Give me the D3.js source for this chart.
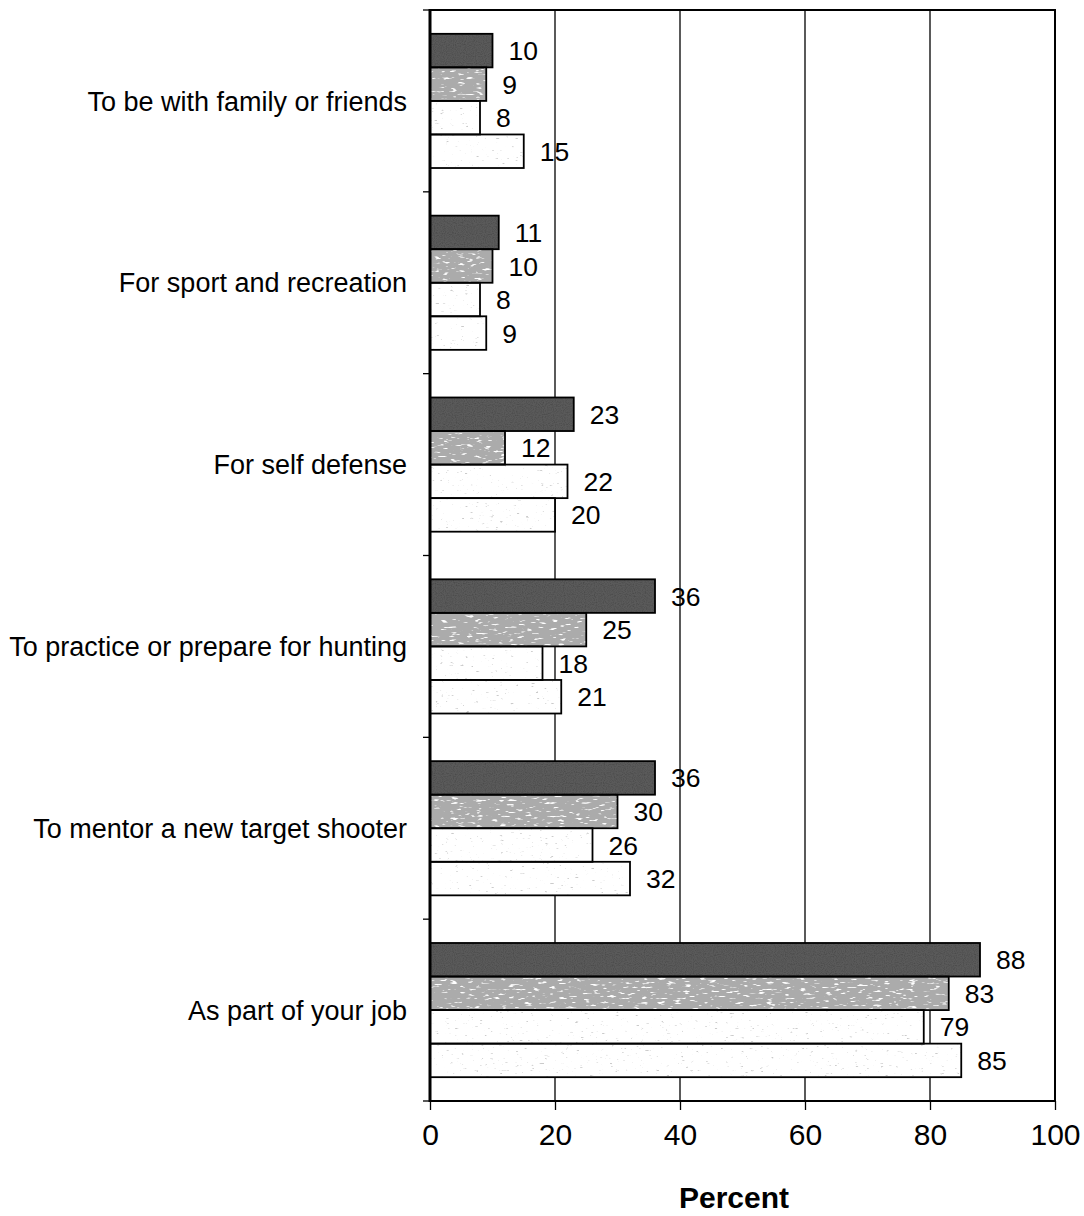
<!DOCTYPE html>
<html>
<head>
<meta charset="utf-8">
<script src="https://cdn.jsdelivr.net/npm/d3@7"></script>
<style>
  html, body { margin: 0; padding: 0; background: #fff; }
  svg { display: block; }
  text { font-family: "Liberation Sans", Arial, sans-serif; fill: #000; }
</style>
</head>
<body>
<svg id="chart" width="1084" height="1216"></svg>
<script>
// ---- data ----
const categories = [
  "To be with family or friends",
  "For sport and recreation",
  "For self defense",
  "To practice or prepare for hunting",
  "To mentor a new target shooter",
  "As part of your job"
];
const seriesNames = ["Series 1", "Series 2", "Series 3", "Series 4"];
const series1 = [10, 11, 23, 36, 36, 88];
const series2 = [9, 10, 12, 25, 30, 83];
const series3 = [8, 8, 22, 18, 26, 79];
const series4 = [15, 9, 20, 21, 32, 85];
const xTicks = [0, 20, 40, 60, 80, 100];
const xTitle = "Percent";

const seriesValues = [series1, series2, series3, series4];

// ---- layout ----
const svg = d3.select("#chart");
const mLeft = 430, mRight = 1055, mTop = 10, mBottom = 1101;

const x = d3.scaleLinear().domain([0, 100]).range([mLeft, mRight]);
const y = d3.scaleBand().domain(categories).range([mTop, mBottom]).paddingInner(0).paddingOuter(0);
const ySub = d3.scaleBand().domain(seriesNames).range([0, y.bandwidth()]).paddingInner(0).paddingOuter(0.71);

const fills = ["#5a5a5a", "#ababab", "#ffffff", "#ffffff"];
const filters = ["url(#noiseDark)", "url(#speckle)", "url(#faint)", "url(#faint)"];

// ---- texture filters ----
const defs = svg.append("defs");
const fDark = defs.append("filter").attr("id", "noiseDark").attr("x", 0).attr("y", 0).attr("width", 1).attr("height", 1);
fDark.append("feTurbulence").attr("type", "fractalNoise").attr("baseFrequency", "0.9").attr("numOctaves", 1).attr("seed", 2).attr("result", "n");
fDark.append("feColorMatrix").attr("in", "n").attr("type", "matrix")
  .attr("values", "0 0 0 0 0  0 0 0 0 0  0 0 0 0 0  0 0 0 0.8 -0.35").attr("result", "dots");
fDark.append("feComposite").attr("in", "dots").attr("in2", "SourceGraphic").attr("operator", "in").attr("result", "cd");
const m1 = fDark.append("feMerge");
m1.append("feMergeNode").attr("in", "SourceGraphic");
m1.append("feMergeNode").attr("in", "cd");

const fSp = defs.append("filter").attr("id", "speckle").attr("x", 0).attr("y", 0).attr("width", 1).attr("height", 1);
fSp.append("feTurbulence").attr("type", "fractalNoise").attr("baseFrequency", "0.12 0.45").attr("numOctaves", 2).attr("seed", 5).attr("result", "n");
fSp.append("feColorMatrix").attr("in", "n").attr("type", "matrix")
  .attr("values", "0 0 0 0 1  0 0 0 0 1  0 0 0 0 1  0 0 0 7 -4.3").attr("result", "spots");
fSp.append("feComposite").attr("in", "spots").attr("in2", "SourceGraphic").attr("operator", "in").attr("result", "cs");
const m2 = fSp.append("feMerge");
m2.append("feMergeNode").attr("in", "SourceGraphic");
m2.append("feMergeNode").attr("in", "cs");

const fFa = defs.append("filter").attr("id", "faint").attr("x", 0).attr("y", 0).attr("width", 1).attr("height", 1);
fFa.append("feTurbulence").attr("type", "fractalNoise").attr("baseFrequency", "0.2 0.6").attr("numOctaves", 2).attr("seed", 9).attr("result", "n");
fFa.append("feColorMatrix").attr("in", "n").attr("type", "matrix")
  .attr("values", "0 0 0 0 0.6  0 0 0 0 0.6  0 0 0 0 0.6  0 0 0 8 -5.6").attr("result", "spots");
fFa.append("feComposite").attr("in", "spots").attr("in2", "SourceGraphic").attr("operator", "in").attr("result", "cf");
const m3 = fFa.append("feMerge");
m3.append("feMergeNode").attr("in", "SourceGraphic");
m3.append("feMergeNode").attr("in", "cf");

// ---- gridlines ----
svg.append("g").selectAll("line")
  .data(xTicks.filter(t => t > 0 && t < 100))
  .join("line")
  .attr("x1", d => x(d)).attr("x2", d => x(d))
  .attr("y1", mTop).attr("y2", mBottom)
  .attr("stroke", "#000").attr("stroke-width", 1.3);

// ---- bars ----
const rows = [];
categories.forEach((c, i) => {
  seriesNames.forEach((s, j) => {
    rows.push({ cat: c, s: s, j: j, v: seriesValues[j][i] });
  });
});

const gBars = svg.append("g");
gBars.selectAll("rect.fill")
  .data(rows)
  .join("rect")
  .attr("class", "fill")
  .attr("x", x(0))
  .attr("y", d => y(d.cat) + ySub(d.s))
  .attr("width", d => x(d.v) - x(0))
  .attr("height", ySub.bandwidth())
  .attr("fill", d => fills[d.j])
  .attr("filter", d => filters[d.j]);

gBars.selectAll("rect.outline")
  .data(rows)
  .join("rect")
  .attr("class", "outline")
  .attr("x", x(0))
  .attr("y", d => y(d.cat) + ySub(d.s))
  .attr("width", d => x(d.v) - x(0))
  .attr("height", ySub.bandwidth())
  .attr("fill", "none")
  .attr("stroke", "#000")
  .attr("stroke-width", 1.8);

// ---- value labels ----
svg.append("g").selectAll("text")
  .data(rows)
  .join("text")
  .attr("x", d => x(d.v) + 16)
  .attr("y", d => y(d.cat) + ySub(d.s) + ySub.bandwidth() / 2)
  .attr("dy", "0.36em")
  .attr("font-size", 26.5)
  .text(d => d.v);

// ---- frame ----
svg.append("rect")
  .attr("x", mLeft).attr("y", mTop)
  .attr("width", mRight - mLeft).attr("height", mBottom - mTop)
  .attr("fill", "none").attr("stroke", "#000").attr("stroke-width", 2);
svg.append("line")
  .attr("x1", mLeft).attr("x2", mLeft).attr("y1", mTop - 1).attr("y2", mBottom + 1)
  .attr("stroke", "#000").attr("stroke-width", 3);

// ---- left ticks at band boundaries ----
const bounds = categories.map(c => y(c)).concat([mBottom]);
svg.append("g").selectAll("line")
  .data(bounds)
  .join("line")
  .attr("x1", mLeft - 7).attr("x2", mLeft)
  .attr("y1", d => d).attr("y2", d => d)
  .attr("stroke", "#000").attr("stroke-width", 1.3);

// ---- category labels ----
svg.append("g").selectAll("text")
  .data(categories)
  .join("text")
  .attr("x", 407)
  .attr("y", d => y(d) + y.bandwidth() / 2)
  .attr("dy", "0.36em")
  .attr("text-anchor", "end")
  .attr("font-size", 27)
  .text(d => d);

// ---- x axis ----
const xAxis = d3.axisBottom(x).tickValues(xTicks).tickSize(9).tickPadding(14).tickFormat(d3.format("d"));
const gx = svg.append("g").attr("transform", `translate(0,${mBottom})`).call(xAxis);
gx.select(".domain").remove();
gx.selectAll(".tick line").attr("stroke", "#000").attr("stroke-width", 1.3);
gx.selectAll(".tick text")
  .attr("font-family", "Liberation Sans, Arial, sans-serif")
  .attr("font-size", 30)
  .attr("fill", "#000");

// ---- axis title ----
svg.append("text")
  .attr("x", 734)
  .attr("y", 1208)
  .attr("text-anchor", "middle")
  .attr("font-size", 30)
  .attr("font-weight", "bold")
  .text(xTitle);
</script>
</body>
</html>
